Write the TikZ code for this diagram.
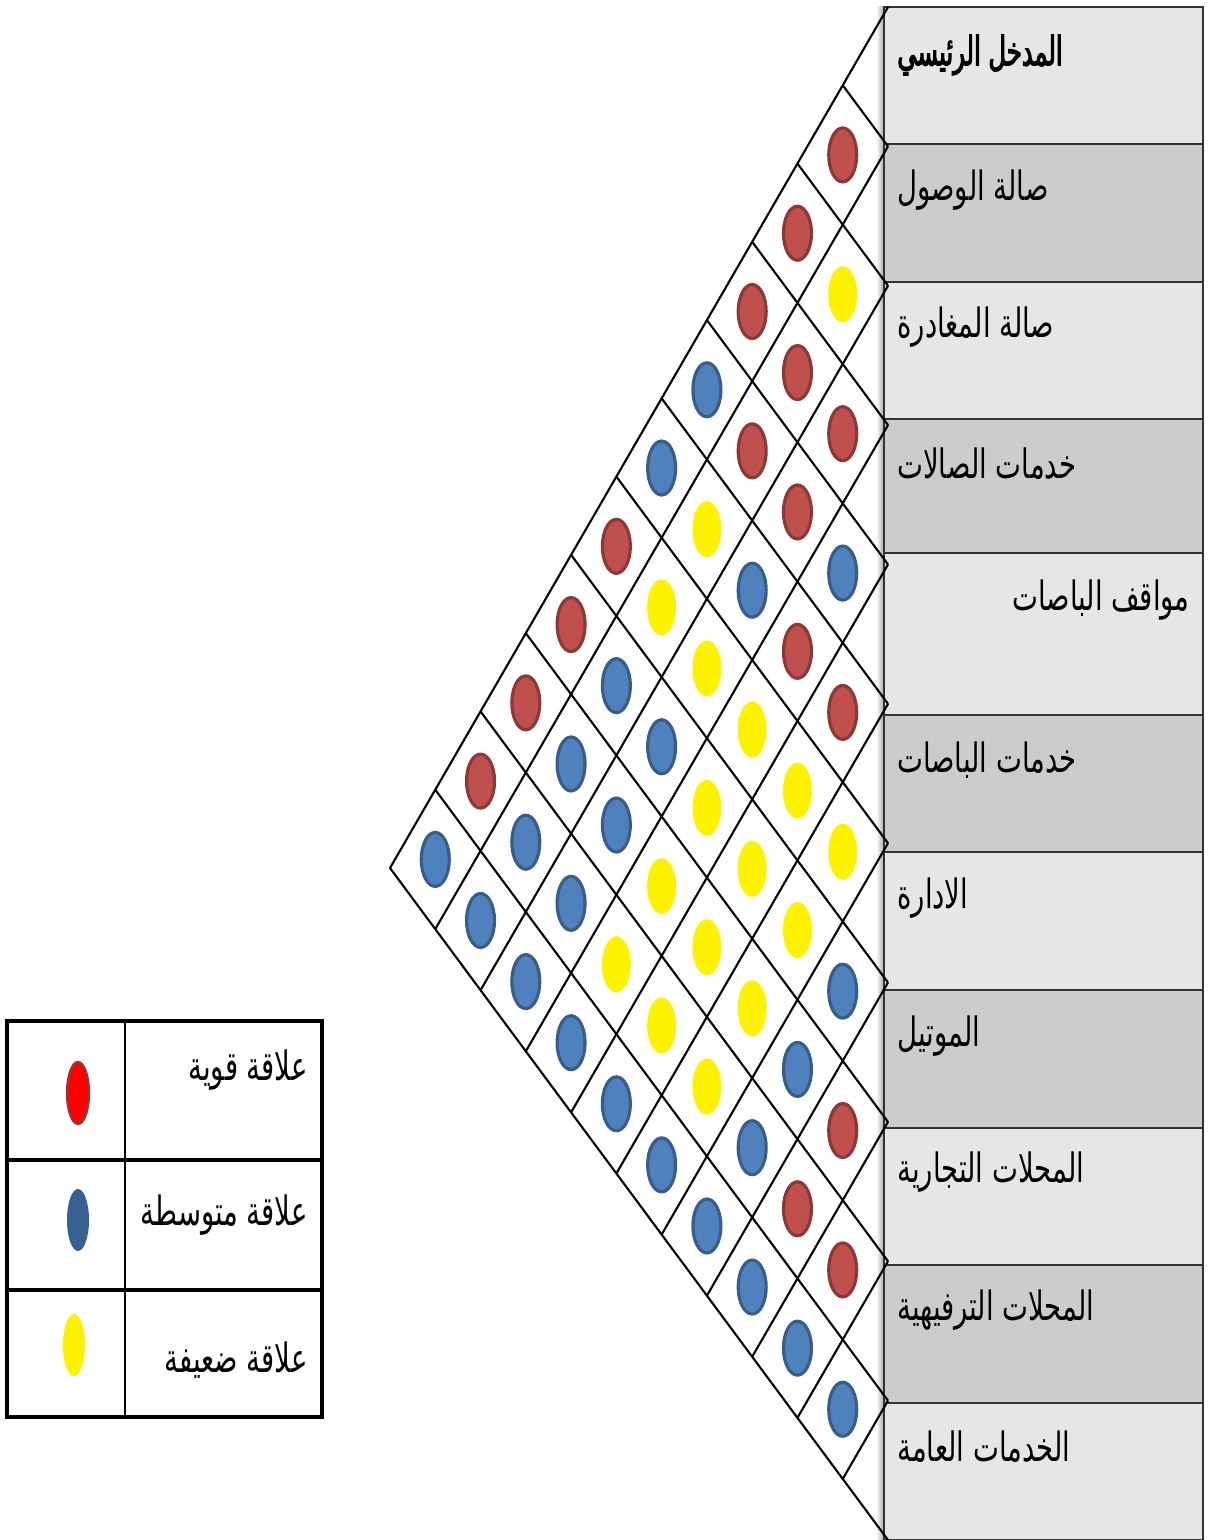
\documentclass[tikz,border=0pt]{standalone}
\usepackage{fontspec}
\setmainfont{DejaVu Sans}
\newfontfamily\arabicfont[Script=Arabic, FakeStretch=0.68]{DejaVu Sans}
\newfontfamily\arabicbold[Script=Arabic, FakeStretch=0.6, FakeBold=2.5]{DejaVu Sans}
\TeXXeTstate=1
\usetikzlibrary{shapes.geometric, positioning, calc}

\definecolor{rowlight}{HTML}{E6E6E6}
\definecolor{rowdark}{HTML}{CCCCCC}
\definecolor{strongfill}{HTML}{C0504D}
\definecolor{strongline}{HTML}{8C3836}
\definecolor{mediumfill}{HTML}{4F81BD}
\definecolor{mediumline}{HTML}{385D8A}
\definecolor{legendred}{HTML}{FF0000}
\definecolor{legendredline}{HTML}{953735}
\definecolor{legendblue}{HTML}{376092}

\begin{document}
\begin{tikzpicture}[
    x=0.02cm, y=-0.02cm,
    gridline/.style={line width=1.2pt, black},
    rowbox/.style={draw=black!80, line width=1.6pt},
    rowlabel/.style={font=\arabicfont\fontsize{23}{27}\selectfont, inner sep=0pt},
    dotcell/.style={ellipse, minimum width=0.56cm, minimum height=1.08cm, inner sep=0pt, line width=1.8pt},
    strong/.style={dotcell, fill=strongfill, draw=strongline},
    medium/.style={dotcell, fill=mediumfill, draw=mediumline},
    weak/.style={dotcell, fill=yellow, draw=none, minimum width=0.58cm, minimum height=1.12cm},
    keydot/.style={ellipse, minimum width=0.44cm, minimum height=1.24cm, inner sep=0pt}
]
\useasboundingbox (0,0) rectangle (1207,1540);

% Corners of the triangle
\coordinate (T) at (888,7);
\coordinate (A) at (390,868);
\coordinate (B) at (888,1540);

% Shadow and rows
\shade[left color=white, right color=black!35] (876,7) rectangle (884,1540);
\foreach \top/\bot/\fillc in {7/144/rowlight, 144/282/rowdark, 282/419/rowlight,
    419/553/rowdark, 553/715/rowlight, 715/852/rowdark, 852/990/rowlight,
    990/1128/rowdark, 1128/1265/rowlight, 1265/1403/rowdark, 1403/1540/rowlight}
  \draw[rowbox, fill=\fillc] (884,\top) rectangle (1203,\bot);

% Row labels
\node[rowlabel, anchor=west, font=\arabicbold\fontsize{23}{27}\selectfont] (r1) at (897,55) {\beginR المدخل الرئيسي\endR};
\node[rowlabel, anchor=west] (r2) at (897,190) {\beginR صالة الوصول\endR};
\node[rowlabel, anchor=west] (r3) at (897,327) {\beginR صالة المغادرة\endR};
\node[rowlabel, anchor=west] (r4) at (897,464) {\beginR خدمات الصالات\endR};
\node[rowlabel, anchor=east] (r5) at (1190,600) {\beginR مواقف الباصات\endR};
\node[rowlabel, anchor=west] (r6) at (897,760) {\beginR خدمات الباصات\endR};
\node[rowlabel, anchor=west] (r7) at (897,898) {\beginR الادارة\endR};
\node[rowlabel, anchor=west] (r8) at (897,1036) {\beginR الموتيل\endR};
\node[rowlabel, anchor=west] (r9) at (897,1172) {\beginR المحلات التجارية\endR};
\node[rowlabel, anchor=west] (r10) at (897,1310) {\beginR المحلات الترفيهية\endR};
\node[rowlabel, anchor=west] (r11) at (897,1447) {\beginR الخدمات العامة\endR};

% Diamond grid
\foreach \k in {0,...,10} {
  \draw[gridline] ($(A)!{\k/11}!(B)$) -- ($(T)!{\k/11}!(B)$);
  \draw[gridline] ($(A)!{\k/11}!(T)$) -- ($(B)!{\k/11}!(T)$);
}

% Relations (row i, row j, strength)
\foreach \i/\j/\s in {
    1/2/strong, 1/3/strong, 1/4/strong, 1/5/medium, 1/6/medium, 1/7/strong, 1/8/strong, 1/9/strong, 1/10/strong, 1/11/medium,
    2/3/weak, 2/4/strong, 2/5/strong, 2/6/weak, 2/7/weak, 2/8/medium, 2/9/medium, 2/10/medium, 2/11/medium,
    3/4/strong, 3/5/strong, 3/6/medium, 3/7/weak, 3/8/medium, 3/9/medium, 3/10/medium, 3/11/medium,
    4/5/medium, 4/6/strong, 4/7/weak, 4/8/weak, 4/9/weak, 4/10/weak, 4/11/medium,
    5/6/strong, 5/7/weak, 5/8/weak, 5/9/weak, 5/10/weak, 5/11/medium,
    6/7/weak, 6/8/weak, 6/9/weak, 6/10/weak, 6/11/medium,
    7/8/medium, 7/9/medium, 7/10/medium, 7/11/medium,
    8/9/strong, 8/10/strong, 8/11/medium,
    9/10/strong, 9/11/medium,
    10/11/medium} {
  \node[\s] (c\i-\j) at ($(A)!{(\i-0.5)/11}!(B) + {(11.5-\j)/11}*($(T)-(A)$)$) {};
}

% Legend
\draw[line width=2.6pt] (7,1021) rectangle (322,1417);
\draw[line width=2.6pt] (7,1160) -- (322,1160);
\draw[line width=2.6pt] (7,1290) -- (322,1290);
\draw[line width=1.1pt] (125,1021) -- (125,1417);

\node[keydot, fill=legendred, draw=legendredline, line width=1.3pt] (k1) at (78,1093) {};
\node[keydot, fill=legendblue] (k2) at (78,1220) {};
\node[keydot, fill=yellow] (k3) at (74,1345) {};
\node[rowlabel, anchor=east] (t1) at (308,1070) {\beginR علاقة قوية\endR};
\node[rowlabel, anchor=east] (t2) at (308,1215) {\beginR علاقة متوسطة\endR};
\node[rowlabel, anchor=east] (t3) at (308,1360) {\beginR علاقة ضعيفة\endR};

\end{tikzpicture}
\end{document}
